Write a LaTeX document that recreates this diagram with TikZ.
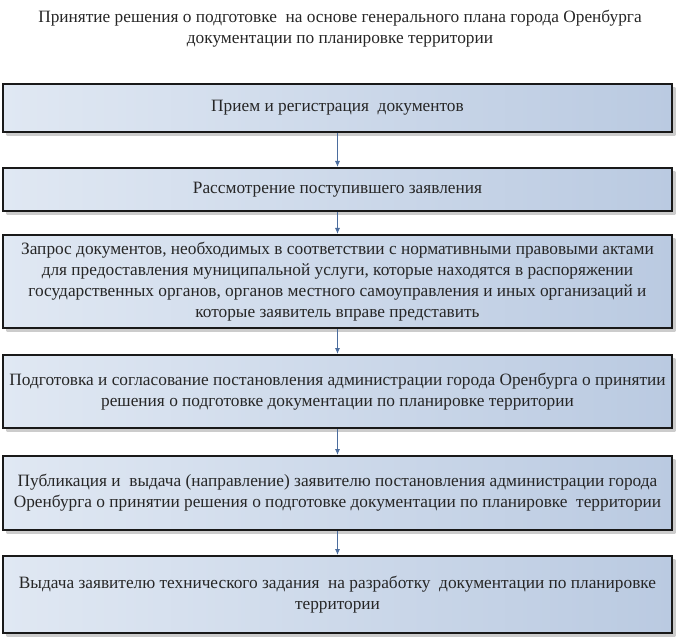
\documentclass[tikz,border=0pt]{standalone}
\usepackage{fontspec}
\setmainfont{Liberation Serif}
\usetikzlibrary{positioning, shadows, arrows.meta}
\definecolor{boxlight}{HTML}{E0E8F3}
\definecolor{boxdark}{HTML}{BACAE1}
\definecolor{arrowblue}{HTML}{4B6D9E}
\tikzstyle{title} = [align=center, font=\fontsize{17.3}{21}\selectfont, text=black!85]
\tikzstyle{stage} = [rectangle, minimum width=668.8pt, inner sep=1pt, align=center, font=\fontsize{17.3}{21}\selectfont, text=black!85, draw=black!90, line width=2.2pt, left color=boxlight, right color=boxdark, drop shadow={shadow xshift=3.5pt, shadow yshift=-3.5pt, left color=black!20, right color=black!20, opacity=1}]
\tikzstyle{arrow} = [arrowblue, line width=0.9pt, -{Latex[length=6pt, width=5pt]}]

\begin{document}
\begin{tikzpicture}
\useasboundingbox (0,0) rectangle (680pt,-639pt);
\node (head) [title] at (340pt,-28.5pt) {Принятие решения о подготовке\ \ на основе генерального плана города Оренбурга\\ документации по планировке территории};
\node (reg) [stage, minimum height=47.8pt] at (337.5pt,-108pt) {Прием и регистрация\ \ документов};
\node (rev) [stage, minimum height=42.8pt, below=34pt of reg] {Рассмотрение поступившего заявления};
\node (req) [stage, minimum height=92.8pt, below=22pt of rev] {Запрос документов, необходимых в соответствии с нормативными правовыми актами\\ для предоставления муниципальной услуги, которые находятся в распоряжении\\ государственных органов, органов местного самоуправления и иных организаций и\\ которые заявитель вправе представить};
\node (prep) [stage, minimum height=72.8pt, below=25pt of req] {Подготовка и согласование постановления администрации города Оренбурга о принятии\\ решения о подготовке документации по планировке территории};
\node (pub) [stage, minimum height=73.8pt, below=26pt of prep] {Публикация и\ \ выдача (направление) заявителю постановления администрации города\\ Оренбурга о принятии решения о подготовке документации по планировке\ \ территории};
\node (task) [stage, minimum height=76.8pt, below=24pt of pub] {Выдача заявителю технического задания\ \ на разработку\ \ документации по планировке\\ территории};
\draw [arrow] (reg) -- (rev);
\draw [arrow] (rev) -- (req);
\draw [arrow] (req) -- (prep);
\draw [arrow] (prep) -- (pub);
\draw [arrow] (pub) -- (task);
\end{tikzpicture}
\end{document}
